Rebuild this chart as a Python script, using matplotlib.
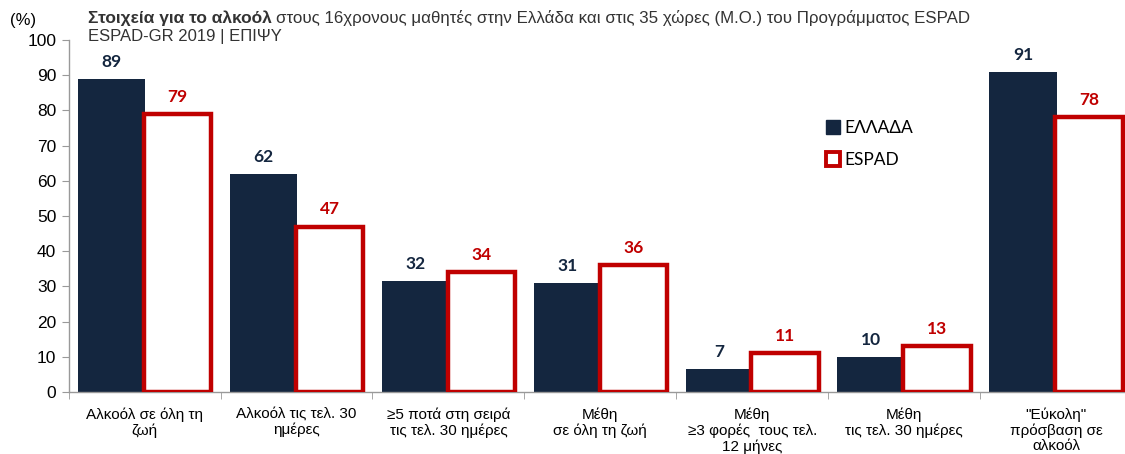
import matplotlib
matplotlib.use("Agg")
import matplotlib.pyplot as plt
import numpy as np
from matplotlib.lines import Line2D

categories = ["Αλκοόλ σε όλη τη\nζωή", "Αλκοόλ τις τελ. 30\nημέρες", "≥5 ποτά στη σειρά\nτις τελ. 30 ημέρες",
              "Μέθη\nσε όλη τη ζωή", "Μέθη\n≥3 φορές  τους τελ.\n12 μήνες", "Μέθη\nτις τελ. 30 ημέρες",
              "\"Εύκολη\"\nπρόσβαση σε\nαλκοόλ"]
greece = [89, 62, 31.5, 31, 6.5, 10, 91]
greece_labels = ["89", "62", "32", "31", "7", "10", "91"]
espad = [79, 47, 34, 36, 11, 13, 78]
espad_labels = ["79", "47", "34", "36", "11", "13", "78"]
yticks = list(range(0, 101, 10))

navy = "#14263F"
red = "#C00000"
txt = "#333333"

W, H = 1125, 454
fig = plt.figure(figsize=(W / 100, H / 100), dpi=100)
ax = fig.add_axes([68.7 / W, 1 - 392 / H, (1132 - 68.7) / W, (392 - 40) / H])

x = np.arange(len(categories))
bw = 0.444
off = 0.217
ax.bar(x - off, greece, bw, color=navy, zorder=2)
ax.bar(x + off, espad, bw, color="white", edgecolor=red, linewidth=3.2, zorder=3)

for xi, v, l in zip(x, greece, greece_labels):
    ax.text(xi - off, v + 2.6, l, ha="center", va="bottom", color=navy,
            fontsize=12.5, fontweight="bold", family="Lato")
for xi, v, l in zip(x, espad, espad_labels):
    ax.text(xi + off, v + 2.6, l, ha="center", va="bottom", color=red,
            fontsize=12.5, fontweight="bold", family="Lato")

ax.set_xlim(-0.5, len(categories) - 0.5)
ax.set_ylim(0, 100)
ax.set_yticks(yticks)
ax.set_yticklabels([str(t) for t in yticks], family="Liberation Sans", fontsize=12.5)
ax.tick_params(axis="y", length=5, color="#999999", pad=4)
ax.set_xticks(x)
ax.set_xticklabels(categories, family="Liberation Sans", fontsize=11, linespacing=1.12)
ax.tick_params(axis="x", length=0, pad=11)
ax.set_xticks(np.arange(len(categories) + 1) - 0.5, minor=True)
ax.tick_params(axis="x", which="minor", length=5, color="#999999")
for s in ["top", "right"]:
    ax.spines[s].set_visible(False)
for s in ["left", "bottom"]:
    ax.spines[s].set_color("#999999")
    ax.spines[s].set_linewidth(1)

# legend
h1 = Line2D([], [], marker="s", linestyle="none", markersize=9.5, markerfacecolor=navy, markeredgecolor=navy)
h2 = Line2D([], [], marker="s", linestyle="none", markersize=9.5, markerfacecolor="white",
            markeredgecolor=red, markeredgewidth=2.8)
fig.legend([h1, h2], ["ΕΛΛΑΔΑ", "ESPAD"], loc="upper left", bbox_to_anchor=(817 / W, 1 - 111 / H),
           frameon=False, prop={"family": "Lato", "size": 12.5}, handlelength=0.8, handletextpad=0.25,
           labelspacing=0.95, borderpad=0)

fig.text(10 / W, 1 - 20 / H, "(%)", family="Liberation Sans", fontsize=12, va="center")
t1 = fig.text(88 / W, 1 - 18 / H, "Στοιχεία για το αλκοόλ", family="Liberation Sans",
              fontsize=12.5, fontweight="bold", va="center", color=txt)
fig.canvas.draw()
bb = t1.get_window_extent()
fig.text(bb.x1 / W + 4 / W, 1 - 18 / H,
         "στους 16χρονους μαθητές στην Ελλάδα και στις 35 χώρες (Μ.Ο.) του Προγράμματος ESPAD",
         family="Liberation Sans", fontsize=12.2, va="center", color=txt)
fig.text(88 / W, 1 - 37 / H, "ESPAD-GR 2019 | ΕΠΙΨΥ", family="Liberation Sans", fontsize=12,
         va="center", color=txt)

fig.savefig("out.png", dpi=100)
